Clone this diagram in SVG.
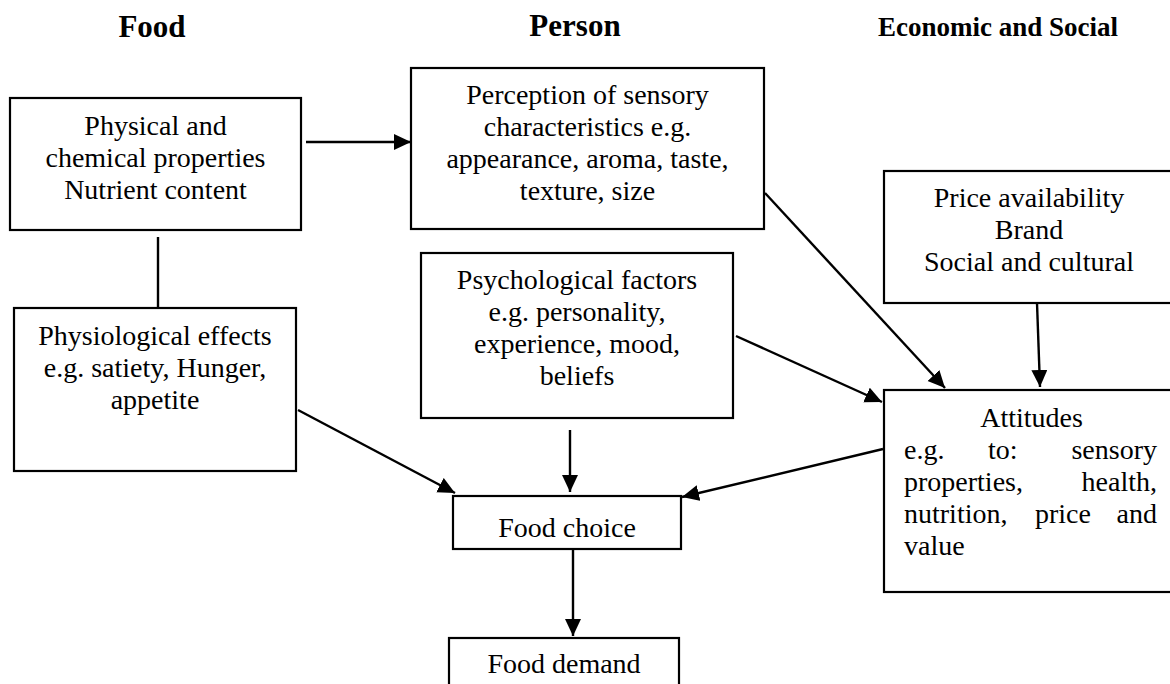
<svg xmlns="http://www.w3.org/2000/svg" width="1170" height="684" viewBox="0 0 1170 684">
<style>
.box{fill:#fff;stroke:#000;stroke-width:2.2}
.t{font-family:"Liberation Serif","Times New Roman",serif;font-size:28px;fill:#000}
.c{text-anchor:middle}
.h{font-family:"Liberation Serif","Times New Roman",serif;font-weight:bold;fill:#000;text-anchor:middle}
.ln{stroke:#000;stroke-width:2.4;fill:none}
.ar{marker-end:url(#ah)}
</style>
<defs>
<marker id="ah" markerUnits="userSpaceOnUse" markerWidth="19" markerHeight="17" refX="17" refY="8" orient="auto">
<path d="M0,0 L17,8 L0,16 z" fill="#000"/>
</marker>
</defs>
<rect width="1170" height="684" fill="#fff"/>
<g id="headers">
<text class="h" x="152" y="37" font-size="31">Food</text>
<text class="h" x="575" y="36" font-size="31">Person</text>
<text class="h" x="998" y="36" font-size="27">Economic and Social</text>
</g>
<g id="connectors">
<line class="ln ar" x1="306" y1="142" x2="411" y2="142"/>
<line class="ln" x1="158" y1="237" x2="158" y2="308"/>
<line class="ln ar" x1="298" y1="410" x2="455" y2="493"/>
<line class="ln ar" x1="570" y1="430" x2="570" y2="492"/>
<line class="ln ar" x1="883" y1="449" x2="682" y2="497"/>
<line class="ln ar" x1="573" y1="549" x2="573" y2="636"/>
<line class="ln ar" x1="765" y1="193" x2="945" y2="388"/>
<line class="ln ar" x1="736" y1="336" x2="882" y2="402"/>
<line class="ln ar" x1="1037" y1="303" x2="1040" y2="387"/>
</g>
<g id="physical">
<rect class="box" x="10" y="98" width="291" height="132"/>
<text class="t c" x="155.5" y="135">Physical and</text>
<text class="t c" x="155.5" y="167">chemical properties</text>
<text class="t c" x="155.5" y="199">Nutrient content</text>
</g>
<g id="perception">
<rect class="box" x="411" y="68" width="353" height="161"/>
<text class="t c" x="587.5" y="104">Perception of sensory</text>
<text class="t c" x="587.5" y="136">characteristics e.g.</text>
<text class="t c" x="587.5" y="168">appearance, aroma, taste,</text>
<text class="t c" x="587.5" y="200">texture, size</text>
</g>
<g id="price">
<rect class="box" x="884" y="171" width="300" height="132"/>
<text class="t c" x="1029" y="207">Price availability</text>
<text class="t c" x="1029" y="239">Brand</text>
<text class="t c" x="1029" y="271">Social and cultural</text>
</g>
<g id="physiological">
<rect class="box" x="14" y="308" width="282" height="163"/>
<text class="t c" x="155" y="345">Physiological effects</text>
<text class="t c" x="155" y="377">e.g. satiety, Hunger,</text>
<text class="t c" x="155" y="409">appetite</text>
</g>
<g id="psychological">
<rect class="box" x="421" y="253" width="312" height="165"/>
<text class="t c" x="577" y="289">Psychological factors</text>
<text class="t c" x="577" y="321">e.g. personality,</text>
<text class="t c" x="577" y="353">experience, mood,</text>
<text class="t c" x="577" y="385">beliefs</text>
</g>
<g id="attitudes">
<rect class="box" x="884" y="390" width="300" height="202"/>
<text class="t c" x="1031.5" y="427">Attitudes</text>
<text class="t" x="904" y="459">e.g.</text>
<text class="t" x="988" y="459">to:</text>
<text class="t" x="1157" y="459" text-anchor="end">sensory</text>
<text class="t" x="904" y="491">properties,</text>
<text class="t" x="1157" y="491" text-anchor="end">health,</text>
<text class="t" x="904" y="523">nutrition,</text>
<text class="t" x="1035" y="523">price</text>
<text class="t" x="1157" y="523" text-anchor="end">and</text>
<text class="t" x="904" y="555">value</text>
</g>
<g id="foodchoice">
<rect class="box" x="453" y="496" width="228" height="53"/>
<text class="t c" x="567" y="537">Food choice</text>
</g>
<g id="fooddemand">
<rect class="box" x="449" y="638" width="230" height="60"/>
<text class="t c" x="564" y="673">Food demand</text>
</g>
</svg>
